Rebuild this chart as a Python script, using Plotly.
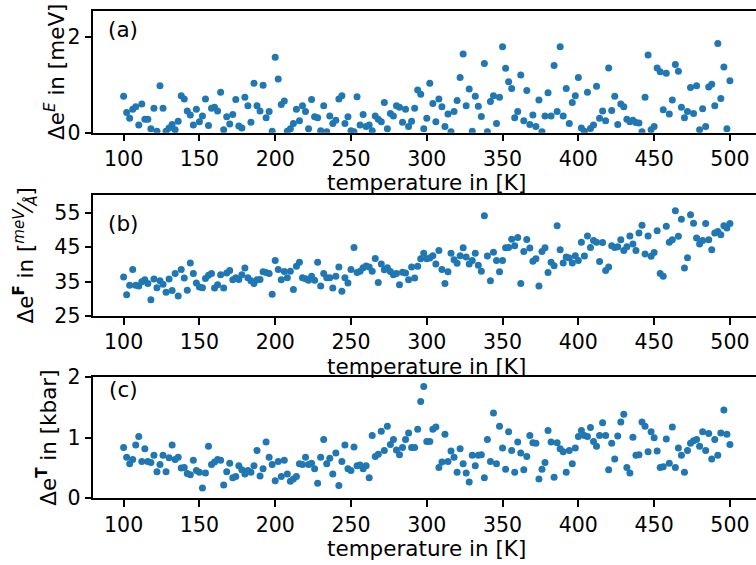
import numpy as np
import plotly.graph_objects as go

# ---- data ----
dE = [0.76, 0.42, 0.30, 0.49, 0.54, 0.16, 0.60, 0.28, 0.28, 0.08,
      0.51, 0.03, 0.98, 0.51, 0.03, 0.10, 0.17, 0.06, 0.24, 0.77,
      0.70, 0.45, 0.37, 0.16, 0.49, 0.23, 0.35, 0.70, 0.15, 0.51,
      0.53, 0.45, 0.84, 0.06, 0.33, 0.18, 0.38, 0.69, 0.14, 0.10,
      0.74, 0.56, 0.22, 1.03, 0.56, 0.45, 0.99, 0.31, 0.44, 0.03,
      1.57, 1.12, 0.59, 0.66, 0.03, 0.08, 0.19, 0.49, 0.25, 0.56,
      0.44, 0.08, 0.69, 0.33, 0.31, 0.04, 0.56, 0.02, 0.35, 0.19,
      0.26, 0.70, 0.77, 0.19, 0.33, 0.04, 0.02, 0.75, 0.16, 0.38,
      0.13, 0.16, 0.04, 0.35, 0.28, 0.23, 0.63, 0.08, 0.40, 0.35,
      0.56, 0.53, 0.22, 0.49, 0.13, 0.24, 0.51, 0.89, 0.80, 0.08,
      0.30, 1.03, 0.61, 0.23, 0.70, 0.54, 0.13, 0.39, 0.02, 0.44,
      0.67, 1.15, 1.64, 0.56, 0.91, 0.03, 0.76, 0.55, 0.34, 1.44,
      0.02, 0.65, 0.77, 0.19, 0.74, 1.79, 1.34, 1.06, 0.92, 0.31,
      0.44, 1.20, 0.25, 0.88, 0.17, 0.37, 0.13, 0.68, 0.02, 0.35,
      0.83, 0.35, 1.40, 0.44, 1.79, 0.35, 0.92, 0.19, 0.63, 0.77,
      1.15, 0.10, 0.03, 0.84, 0.09, 0.16, 0.97, 0.30, 0.45, 0.25,
      1.35, 0.46, 0.76, 0.17, 0.60, 0.54, 0.28, 0.23, 0.26, 0.21,
      0.20,
      0.02, 0.74, 1.62, 0.06, 0.13, 1.35, 1.27, 0.48, 1.24, 0.39,
      0.68, 1.42, 1.28, 0.53, 0.31, 0.44, 0.94, 0.40, 0.98, 0.06,
      0.50,
      0.13, 0.95, 1.01, 0.56, 1.86, 0.71, 1.37, 0.08, 1.08]

dF = [36.3, 31.2, 33.9, 38.5, 33.9, 33.7, 34.9, 35.5, 34.4, 29.7,
      35.7, 33.2, 35.2, 34.2, 31.9, 35.7, 32.4, 37.3, 30.8, 38.5,
      36.0, 32.5, 40.4, 37.3, 34.6, 33.4, 33.2, 35.9, 36.8, 37.3,
      33.1, 34.1, 37.0, 33.1, 37.5, 38.2, 35.5, 36.1, 35.6, 37.0,
      38.9, 36.1, 35.2, 34.4, 35.5, 35.6, 37.8, 37.6, 37.3, 31.3,
      41.1, 38.5, 35.5, 37.9, 36.1, 38.0, 32.7, 39.4, 40.6, 36.1,
      35.8, 35.4, 36.5, 35.4, 40.6, 33.7, 37.3, 36.1, 36.1, 33.1,
      36.5, 39.2, 32.2, 36.1, 34.6, 38.5, 44.9, 37.6, 38.0, 39.0,
      39.5,
      39.2, 38.0, 41.7, 34.7, 40.1, 38.4, 39.0, 37.9, 37.0, 37.3,
      34.1, 37.7, 37.5, 35.5, 39.2, 36.0, 39.4, 41.6, 43.2, 41.6, 41.8,
      42.5,
      40.1, 44.0, 38.5, 34.4, 37.8, 43.2, 41.3, 40.3, 42.5,
      44.8, 42.1, 40.1, 41.1, 43.2, 39.7, 38.0, 54.1, 42.4, 35.2,
      43.5, 41.1, 37.8, 41.1, 44.8, 44.9, 47.3, 45.4, 47.8, 34.4,
      43.7, 47.2, 44.7, 40.9, 41.6, 33.7,
      43.7, 44.8, 37.6, 40.6, 39.6, 51.2, 44.2, 40.4, 42.1, 41.8,
      40.4, 42.5, 41.1, 46.4, 42.4, 48.2, 44.9, 46.9, 46.4, 40.8,
      46.3, 38.2, 39.2, 45.4, 44.9, 45.1, 47.1, 44.0, 45.1, 48.2,
      45.9, 44.0, 49.1, 51.3, 43.0, 48.2, 42.3, 43.4, 49.7, 37.3,
      36.5, 51.0, 46.4, 47.1, 55.5, 48.1, 53.1, 38.9, 41.9, 54.4,
      51.9, 47.6, 45.9, 46.9, 51.8, 47.1, 44.2, 49.1, 49.5, 48.6, 51.2, 50.5, 51.8]

dT = [0.84, 0.68, 0.57, 0.64, 0.88, 1.02, 0.61, 0.82, 0.61, 0.59,
      0.71, 0.44, 0.56, 0.71, 0.44, 0.67, 0.88, 0.64, 0.68, 0.50,
      0.51, 0.41, 0.39, 0.63, 0.46, 0.43, 0.17, 0.42, 0.86, 0.56,
      0.60, 0.64, 0.63, 0.22, 0.44, 0.58, 0.34, 0.36, 0.54, 0.47,
      0.40, 0.46, 0.43, 0.54, 0.79, 0.37, 0.49, 0.93, 0.68, 0.56,
      0.29, 0.61, 0.36, 0.63, 0.40, 0.28, 0.32, 0.36, 0.57, 0.56,
      0.68, 0.56, 0.58, 0.49, 0.25,
      0.68, 0.97, 0.57, 0.66, 0.40, 0.75, 0.21, 0.61, 0.88, 0.49, 0.46, 0.85, 0.54,
      0.55,
      0.49, 0.54, 0.34, 1.04, 0.69, 0.73, 1.11, 0.79, 1.19, 0.89, 0.97,
      0.80,
      0.72, 0.84, 0.97, 1.08, 0.84, 0.84, 1.14, 1.60, 1.85, 0.94, 0.94,
      1.14, 1.18, 0.51, 0.60, 1.06, 0.61, 0.78, 0.68, 0.43, 0.82,
      0.57, 0.42, 0.27, 0.71, 0.54, 0.71, 0.72, 0.34, 0.97, 0.61,
      1.41, 0.57, 1.19, 0.83, 0.48, 1.10, 0.79, 0.43, 0.93, 0.75,
      0.47, 0.69, 1.04, 0.92, 0.91, 0.32,
      0.48, 0.59, 1.12, 0.93, 0.35, 0.92, 0.82, 0.77, 0.43, 0.79,
      0.57, 0.83, 1.02, 1.12, 1.04, 1.02, 1.17, 0.94, 0.86, 1.04,
      1.25, 1.04, 0.47, 0.91, 0.65, 1.03, 1.26, 1.39, 0.51, 0.42,
      1.01, 0.71, 0.72, 1.26, 1.19, 0.77, 1.10, 1.00, 0.78, 0.51,
      0.52, 0.98, 0.58, 1.18, 0.51, 0.83, 0.71, 0.43, 0.79, 0.91,
      0.95,
      0.97, 0.86, 1.10, 0.79, 1.07, 0.65, 0.97, 0.71, 1.08, 1.46, 1.06, 0.89]

temp_E = np.linspace(100, 500, len(dE))
temp_F = np.linspace(100, 500, len(dF))
temp_T = np.linspace(100, 500, len(dT))

x_ticks = [100, 150, 200, 250, 300, 350, 400, 450, 500]
yE_ticks = [0, 2]
yF_ticks = [25, 35, 45, 55]
yT_ticks = [0, 1, 2]

x_title = "temperature in [K]"
yE_title = "Δe<sup><i>E</i></sup> in [meV]"
yF_title = "Δe<sup><b>F</b></sup> in [<sup><i>meV</i></sup>⁄<sub><i>Å</i></sub>]"
yT_title = "Δe<sup><b>T</b></sup> in [kbar]"
panel_labels = ["(a)", "(b)", "(c)"]

W, H = 756, 565
BLUE = "#1f77b4"
FONT = "DejaVu Sans"
FS_TICK = 20.5
FS_TITLE = 21.5

def px(xp):
    return xp / W

def py(yp):
    return 1 - yp / H

fig = go.Figure()
for i, (xx, yy) in enumerate([(temp_E, dE), (temp_F, dF), (temp_T, dT)]):
    sfx = "" if i == 0 else str(i + 1)
    fig.add_trace(go.Scatter(x=xx, y=yy, mode="markers",
                             marker=dict(color=BLUE, size=7, line=dict(width=0)),
                             xaxis="x" + sfx, yaxis="y" + sfx, showlegend=False))

xdom = [px(93.3), 1.0]
ydoms = [[py(132.7), py(11)], [py(316), py(195)], [py(498.3), py(377.3)]]
yranges = [[0, 2.535], [25, 60.1], [0, 2.0]]
yticks = [yE_ticks, yF_ticks, yT_ticks]

axis_common = dict(showline=True, linecolor="black", linewidth=1.5,
                   ticks="outside", ticklen=7, tickwidth=1.5, tickcolor="black",
                   showgrid=False, zeroline=False, automargin=False,
                   tickfont=dict(family=FONT, size=FS_TICK, color="black"))

layout = dict(width=W, height=H,
              margin=dict(l=0, r=0, t=0, b=0, pad=0, autoexpand=False),
              plot_bgcolor="white", paper_bgcolor="white", showlegend=False)
for i in range(3):
    sfx = "" if i == 0 else str(i + 1)
    layout["xaxis" + sfx] = dict(domain=xdom, range=[80, 517.2], anchor="y" + sfx,
                                 tickvals=x_ticks, mirror=True, **axis_common)
    layout["yaxis" + sfx] = dict(domain=ydoms[i], range=yranges[i], anchor="x" + sfx,
                                 tickvals=yticks[i], **axis_common)
fig.update_layout(**layout)

ann = []
# x-axis titles
for yc in [183, 366.5, 548.5]:
    ann.append(dict(text=x_title, x=px(426.7), y=py(yc), xref="paper", yref="paper",
                    xanchor="center", yanchor="middle", showarrow=False,
                    font=dict(family=FONT, size=FS_TITLE, color="black")))
# y-axis titles
for t, xc, yc in [(yE_title, 55, 71.9), (yF_title, 25, 255.5), (yT_title, 47, 437.8)]:
    ann.append(dict(text=t, x=px(xc), y=py(yc), xref="paper", yref="paper",
                    xanchor="center", yanchor="middle", showarrow=False, textangle=-90,
                    font=dict(family=FONT, size=FS_TITLE, color="black")))
# panel labels
for t, yc in zip(panel_labels, [30, 223, 389]):
    ann.append(dict(text=t, x=px(123), y=py(yc), xref="paper", yref="paper",
                    xanchor="center", yanchor="middle", showarrow=False,
                    font=dict(family=FONT, size=FS_TITLE, color="black")))
fig.update_layout(annotations=ann)

fig.write_html("out.html")
